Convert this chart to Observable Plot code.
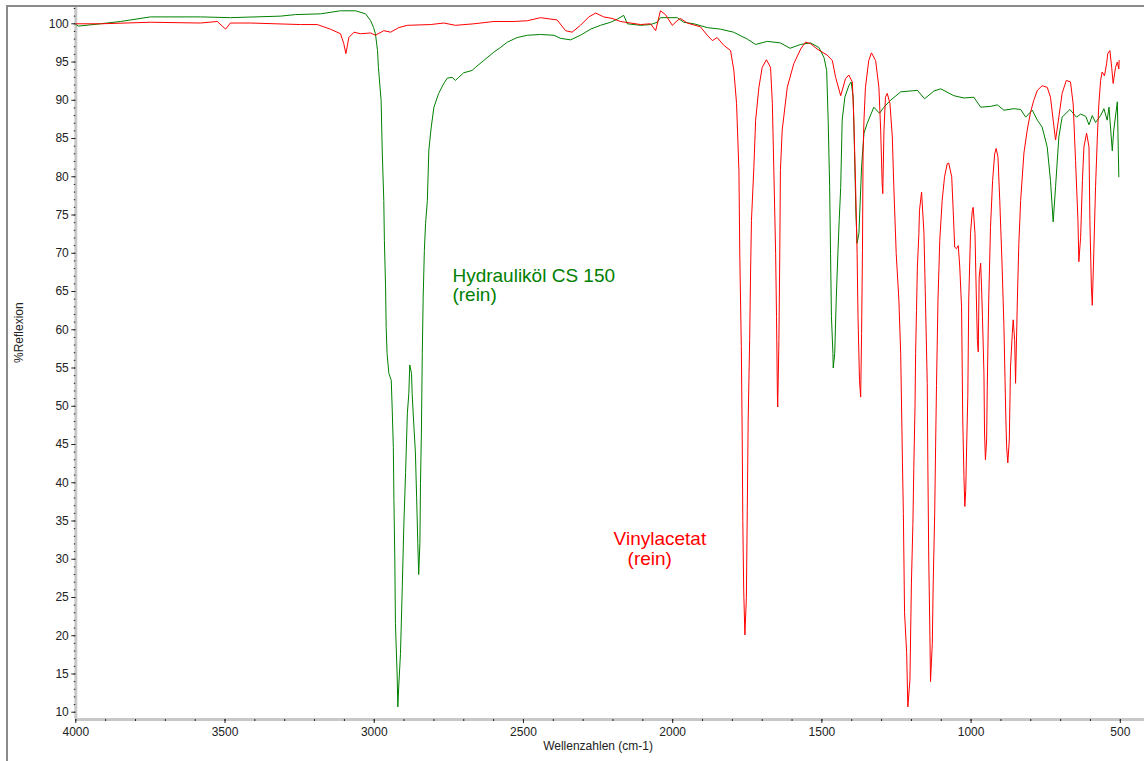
<!DOCTYPE html>
<html>
<head>
<meta charset="utf-8">
<script src="https://cdn.jsdelivr.net/npm/d3@7"></script>
<script src="https://cdn.jsdelivr.net/npm/@observablehq/plot@0.6"></script>
<style>
  html, body { margin: 0; padding: 0; background: #fff; }
  svg { display: block; }
</style>
</head>
<body>
<div id="chart"></div>
<script>
// ---- axis setup (data units) ----
const xDomain = [4000, 419];          // Wellenzahlen (cm-1), reversed
const yDomain = [9.05, 102.26];       // %Reflexion
const xMajorTicks = [4000, 3500, 3000, 2500, 2000, 1500, 1000, 500];
const xMinorTicks = d3.range(500, 4001, 100);
const yMajorTicks = d3.range(10, 101, 5);
const yMinorTicks = d3.range(10, 103, 1);

// ---- series: [wavenumber, %Reflexion] ----
const hydraulikoel = [
  [4000,99.9],[3991,99.7],[3917,100.0],[3850,100.3],[3750,100.9],[3582,100.9],[3482,100.8],
  [3314,101.0],[3264,101.2],[3180,101.3],[3113,101.7],[3063,101.7],[3029,101.3],[3012,100.4],
  [3002,99.5],[2996,98.7],[2989,96.5],[2986,94.3],[2977,90.0],[2973,83.1],[2968,76.9],
  [2966,71.7],[2962,65.6],[2960,60.3],[2957,56.9],[2951,54.3],[2943,53.4],[2940,49.9],
  [2936,44.6],[2934,37.7],[2931,29.9],[2929,21.6],[2923,14.6],[2921,10.7],[2918,13.3],
  [2912,17.7],[2906,26.4],[2901,34.2],[2895,41.3],[2889,49.1],[2884,51.7],[2881,55.4],
  [2875,54.3],[2873,51.7],[2867,47.3],[2862,43.9],[2858,38.1],[2854,32.1],[2851,28.0],
  [2847,32.1],[2845,39.9],[2842,46.5],[2839,56.9],[2836,64.3],[2832,70.4],[2828,73.9],
  [2822,76.9],[2817,83.5],[2809,86.5],[2800,89.1],[2784,90.9],[2767,92.2],[2755,92.9],
  [2739,93.0],[2728,92.6],[2717,93.0],[2700,93.6],[2672,93.9],[2661,94.3],[2633,95.2],
  [2599,96.3],[2577,96.9],[2554,97.6],[2521,98.2],[2487,98.5],[2443,98.6],[2398,98.5],
  [2376,98.1],[2342,97.9],[2309,98.5],[2275,99.3],[2242,99.8],[2208,100.2],[2186,100.6],
  [2164,101.1],[2152,100.0],[2108,99.8],[2074,99.9],[2052,100.2],[2041,100.8],[2018,100.8],
  [1985,100.8],[1963,100.2],[1929,100.0],[1884,99.5],[1840,99.3],[1796,98.9],[1750,98.0],
  [1722,97.3],[1683,97.7],[1639,97.5],[1607,96.8],[1571,97.3],[1538,97.5],[1510,96.9],
  [1493,95.6],[1484,93.9],[1479,87.4],[1474,78.7],[1471,70.0],[1468,61.7],[1463,56.9],
  [1462,55.0],[1457,56.9],[1452,63.9],[1446,70.4],[1442,74.3],[1437,78.6],[1432,87.4],
  [1423,90.4],[1410,91.9],[1402,92.4],[1395,90.4],[1391,83.9],[1386,75.2],[1382,71.3],
  [1376,72.6],[1367,81.3],[1359,85.7],[1348,87.0],[1326,89.1],[1307,88.3],[1292,89.1],
  [1270,90.0],[1236,91.1],[1180,91.3],[1156,90.2],[1125,91.2],[1102,91.5],[1058,90.6],
  [1024,90.3],[991,90.4],[968,89.1],[935,89.2],[912,89.4],[890,88.7],[857,88.9],
  [834,88.8],[817,87.8],[795,88.7],[778,87.4],[762,86.5],[745,83.9],[734,79.5],
  [725,74.1],[717,78.7],[706,85.2],[695,87.8],[669,88.8],[647,87.8],[633,88.2],
  [616,87.9],[605,86.8],[594,88.0],[583,87.1],[566,88.0],[555,88.9],[544,87.4],
  [538,89.1],[527,83.4],[522,86.1],[510,89.8],[505,80.0]
];

const vinylacetat = [
  [4000,100.0],[3917,100.0],[3750,100.2],[3582,100.1],[3526,100.3],[3498,99.3],[3482,100.1],
  [3415,100.1],[3247,99.9],[3191,99.9],[3147,99.3],[3113,98.7],[3102,97.4],[3095,96.1],
  [3085,98.2],[3068,98.9],[3046,98.7],[3012,98.8],[2996,98.5],[2968,99.1],[2945,98.9],
  [2918,99.5],[2889,99.8],[2811,99.9],[2767,100.1],[2728,99.8],[2666,100.0],[2599,100.3],
  [2532,100.3],[2487,100.4],[2443,100.8],[2387,100.5],[2359,99.1],[2337,98.9],[2309,99.8],
  [2281,100.9],[2258,101.4],[2231,100.9],[2203,100.7],[2175,100.3],[2141,100.1],[2108,99.9],
  [2074,100.0],[2057,99.1],[2041,101.7],[2024,101.2],[2001,99.8],[1985,100.4],[1974,100.7],
  [1951,100.1],[1907,99.6],[1884,98.5],[1867,97.8],[1851,98.2],[1829,97.2],[1806,96.5],
  [1795,93.9],[1786,89.6],[1778,80.8],[1775,69.5],[1770,57.8],[1767,46.0],[1765,35.1],
  [1762,26.0],[1758,20.1],[1753,25.0],[1750,36.4],[1747,48.2],[1742,58.7],[1739,67.4],
  [1736,74.3],[1728,81.2],[1722,87.4],[1711,91.7],[1700,94.3],[1686,95.3],[1672,94.3],
  [1666,89.6],[1661,80.8],[1655,70.0],[1652,61.7],[1649,51.2],[1648,49.9],[1644,58.6],
  [1641,70.4],[1639,80.8],[1633,86.1],[1616,91.7],[1594,94.8],[1571,96.7],[1555,97.6],
  [1538,97.4],[1516,96.7],[1482,95.9],[1465,95.2],[1454,93.0],[1437,90.6],[1421,92.8],
  [1410,93.3],[1398,92.4],[1393,87.4],[1387,78.7],[1382,70.0],[1379,61.7],[1374,53.4],
  [1370,51.2],[1367,59.5],[1364,70.4],[1362,83.1],[1359,87.4],[1354,91.7],[1343,95.2],
  [1334,96.2],[1320,95.2],[1309,91.7],[1303,86.1],[1298,79.1],[1296,77.8],[1292,86.1],
  [1287,90.4],[1281,90.9],[1272,89.6],[1264,85.2],[1259,78.7],[1251,70.0],[1242,63.9],
  [1236,56.9],[1233,49.9],[1230,42.6],[1227,36.0],[1223,23.0],[1216,17.8],[1212,10.7],
  [1205,14.2],[1200,26.9],[1195,34.7],[1192,42.0],[1188,49.9],[1186,56.9],[1183,62.5],
  [1180,68.2],[1175,72.6],[1173,75.6],[1166,78.0],[1158,72.6],[1153,63.9],[1147,53.0],
  [1145,42.6],[1142,30.3],[1138,19.9],[1136,14.0],[1130,19.0],[1127,26.9],[1122,36.0],
  [1119,44.7],[1116,52.7],[1111,63.9],[1105,71.7],[1097,76.9],[1089,80.0],[1080,81.7],
  [1075,81.8],[1065,80.0],[1060,75.6],[1055,70.8],[1049,70.6],[1043,71.0],[1038,68.2],
  [1032,63.0],[1028,48.2],[1024,40.8],[1021,36.9],[1018,39.0],[1015,44.7],[1011,51.4],
  [1008,63.9],[1002,72.6],[996,75.6],[993,76.0],[987,72.6],[983,65.2],[979,58.6],
  [976,57.1],[973,66.9],[968,68.7],[965,65.6],[962,61.7],[957,54.3],[955,46.5],
  [952,43.0],[948,45.6],[946,52.1],[941,63.9],[935,73.4],[928,79.5],[921,83.0],
  [916,83.7],[910,82.6],[904,76.9],[896,68.2],[890,60.4],[884,49.1],[881,44.7],
  [877,42.6],[872,45.6],[868,55.1],[862,59.5],[859,61.3],[854,58.6],[851,53.0],
  [845,63.9],[840,71.3],[834,76.9],[823,83.1],[812,86.1],[801,88.4],[790,90.0],
  [778,91.3],[762,91.9],[745,91.7],[734,90.4],[725,87.4],[717,84.8],[706,87.8],
  [695,90.9],[681,92.6],[667,92.4],[658,89.5],[650,82.1],[642,74.3],[639,68.9],
  [633,72.1],[627,79.5],[622,83.9],[613,85.7],[605,83.9],[602,74.3],[597,65.6],
  [594,63.2],[589,70.0],[583,78.7],[577,85.2],[572,89.5],[566,92.6],[561,93.7],
  [553,93.2],[546,94.8],[542,96.1],[535,96.5],[529,94.3],[524,92.2],[516,94.3],
  [510,95.0],[505,94.1],[504,95.2]
];

// ---- in-chart labels (anchored in data units: wavenumber, %) ----
const labelText  = ["Hydrauliköl CS 150", "(rein)", "Vinylacetat", "(rein)"];
const labelWn    = [2738, 2738, 2198, 2151];
const labelPct   = [66.3, 63.8, 31.8, 29.2];
const labelColor = ["#008000", "#008000", "#ff0000", "#ff0000"];
const labels = labelText.map((t, i) => ({text: t, wn: labelWn[i], pct: labelPct[i], color: labelColor[i]}));

const axisGray = "#c8c8c8";

const svg = Plot.plot({
  width: 1144,
  height: 761,
  marginLeft: 75.3,
  marginRight: 0,
  marginTop: 6,
  marginBottom: 42,
  x: {domain: xDomain},
  y: {domain: yDomain},
  style: {fontFamily: "'Liberation Sans', Arial, sans-serif", fontSize: "12px", color: "#000", background: "#fff", overflow: "visible"},
  marks: [
    // axis bands
    Plot.ruleX([xDomain[0]], {stroke: axisGray, strokeWidth: 3}),
    Plot.ruleY([yDomain[0]], {stroke: axisGray, strokeWidth: 3}),
    // spectra
    Plot.line(hydraulikoel, {x: d => d[0], y: d => d[1], stroke: "#008000", strokeWidth: 1}),
    Plot.line(vinylacetat, {x: d => d[0], y: d => d[1], stroke: "#ff0000", strokeWidth: 1}),
    // y axis
    Plot.axisY(yMinorTicks, {anchor: "left", tickSize: 1.5, tickFormat: () => "", label: null, stroke: "#222"}),
    Plot.axisY(yMajorTicks, {anchor: "left", tickSize: 4, tickPadding: 3, tickFormat: d => String(d), label: null, stroke: "#222", fill: "#222"}),
    // x axis
    Plot.axisX(xMinorTicks, {anchor: "bottom", tickSize: 2, tickFormat: () => "", label: null, stroke: "#222"}),
    Plot.axisX(xMajorTicks, {anchor: "bottom", tickSize: 4, tickPadding: 4, tickFormat: d => String(d), label: null, stroke: "#222", fill: "#222"}),
    // axis titles
    Plot.text(["%Reflexion"], {frameAnchor: "left", dx: -57, rotate: -90, fontSize: 12, fill: "#222"}),
    Plot.text(["Wellenzahlen (cm-1)"], {x: d3.mean([xMajorTicks[0], xMajorTicks[xMajorTicks.length - 1]]), frameAnchor: "bottom", dy: 30, fontSize: 12, fill: "#222"}),
    // series labels
    Plot.text(labels, {x: "wn", y: "pct", text: "text", fill: "color", textAnchor: "start", lineAnchor: "bottom", fontSize: 19})
  ]
});

// outer window frame
d3.select(svg).append("path")
  .attr("d", "M7,761V6H1144")
  .attr("fill", "none")
  .attr("stroke", "#8a8a8a")
  .attr("stroke-width", 2);

document.getElementById("chart").appendChild(svg);
</script>
</body>
</html>
